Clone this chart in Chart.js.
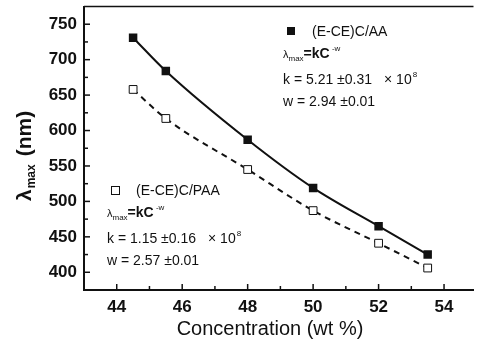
<!DOCTYPE html>
<html>
<head>
<meta charset="utf-8">
<script src="https://cdn.jsdelivr.net/npm/chart.js@4/dist/chart.umd.min.js"></script>
<style>
  html, body { margin: 0; padding: 0; background: #fff; }
  #wrap { width: 480px; height: 349px; }
</style>
</head>
<body>
<div id="wrap"><canvas id="grafico" width="480" height="349"></canvas></div>
<script>
'use strict';

// dados
const concentracao = [44.5, 45.5, 48, 50, 52, 53.5];
const lambdaAA = [731, 684, 587, 519, 465, 425];
const lambdaPAA = [658, 617, 545, 487, 441, 406];
const ticksX = [44, 45, 46, 47, 48, 49, 50, 51, 52, 53, 54];
const ticksY = [400, 425, 450, 475, 500, 525, 550, 575, 600, 625, 650, 675, 700, 725, 750];
const rotuloAA = '(E-CE)C/AA';
const rotuloPAA = '(E-CE)C/PAA';
const paramAA = ['k = 5.21 \u00B10.31', 'w = 2.94 \u00B10.01'];
const paramPAA = ['k = 1.15 \u00B10.16', 'w = 2.57 \u00B10.01'];

const FONTE = '"Liberation Sans", Arial, sans-serif';

function pontos(xs, ys)
{
    return xs.map((x, i) => ({ x: x, y: ys[i] }));
}

// escreve pedaços de texto seguidos (para sub/sobrescritos)
function escreverRuns(ctx, x, y, runs)
{
    runs.forEach(r => {
        ctx.font = r.font;
        ctx.fillText(r.t, x, y + (r.dy || 0));
        x += ctx.measureText(r.t).width + (r.gap || 0);
    });
    return x;
}

function blocoLegenda(ctx, x, y, cheio, rotulo, params)
{
    ctx.fillStyle = '#111';
    ctx.strokeStyle = '#111';
    ctx.lineWidth = 1;
    if (cheio) {
        ctx.fillRect(x, y - 9, 8, 8);
    } else {
        ctx.strokeRect(x + 0.5, y - 8.5, 8, 8);
    }
    ctx.textBaseline = 'alphabetic';
    ctx.textAlign = 'left';
    ctx.font = '14px ' + FONTE;
    ctx.fillText(rotulo, x + 25, y);

    escreverRuns(ctx, x - 4, y + 22, [
        { t: '\u03BB', font: '11px ' + FONTE },
        { t: 'max', font: '8px ' + FONTE, dy: 3 },
        { t: '=kC', font: 'bold 14px ' + FONTE },
        { t: ' -w', font: '8px ' + FONTE, dy: -7 }
    ]);

    escreverRuns(ctx, x - 4, y + 48, [
        { t: params[0], font: '14px ' + FONTE, gap: 12 },
        { t: '\u00D7 10', font: '14px ' + FONTE, gap: 1 },
        { t: '8', font: '8px ' + FONTE, dy: -7 }
    ]);
    ctx.font = '14px ' + FONTE;
    ctx.fillText(params[1], x - 4, y + 70);
}

const extras = {
    id: 'extras',
    afterDraw(chart) {
        const ctx = chart.ctx;
        const xs = chart.scales.x, ys = chart.scales.y;
        const area = chart.chartArea;
        ctx.save();
        ctx.strokeStyle = '#111';
        ctx.lineWidth = 1.5;

        // marcas para dentro
        xs.ticks.forEach(t => {
            const px = xs.getPixelForValue(t.value);
            const len = t.value % 2 === 0 ? 6 : 4;
            ctx.beginPath();
            ctx.moveTo(px, area.bottom);
            ctx.lineTo(px, area.bottom - len);
            ctx.stroke();
        });
        ys.ticks.forEach(t => {
            const py = ys.getPixelForValue(t.value);
            const len = t.value % 50 === 0 ? 6 : 4;
            ctx.beginPath();
            ctx.moveTo(area.left, py);
            ctx.lineTo(area.left + len, py);
            ctx.stroke();
        });

        // borda superior
        ctx.beginPath();
        ctx.moveTo(area.left, area.top);
        ctx.lineTo(area.right, area.top);
        ctx.stroke();

        // títulos dos eixos
        ctx.fillStyle = '#111';
        ctx.textAlign = 'center';
        ctx.textBaseline = 'alphabetic';
        ctx.font = '20px ' + FONTE;
        ctx.fillText('Concentration (wt %)', 270, 335);

        ctx.save();
        ctx.translate(31, 201);
        ctx.rotate(-Math.PI / 2);
        ctx.textAlign = 'left';
        escreverRuns(ctx, 0, 0, [
            { t: '\u03BB', font: 'bold 21px ' + FONTE, gap: 1 },
            { t: 'max', font: 'bold 12px ' + FONTE, dy: 4, gap: 8 },
            { t: '(nm)', font: 'bold 21px ' + FONTE }
        ]);
        ctx.restore();

        blocoLegenda(ctx, 287, 36, true, rotuloAA, paramAA);
        blocoLegenda(ctx, 111, 195, false, rotuloPAA, paramPAA);
        ctx.restore();
    }
};

new Chart(document.getElementById('grafico'), {
    type: 'scatter',
    data: {
        datasets: [{
            label: rotuloAA,
            data: pontos(concentracao, lambdaAA),
            showLine: true,
            cubicInterpolationMode: 'monotone',
            borderColor: '#111',
            borderWidth: 2,
            backgroundColor: '#111',
            pointStyle: 'rect',
            pointRadius: 6,
            pointBorderWidth: 0
        }, {
            label: rotuloPAA,
            data: pontos(concentracao, lambdaPAA),
            showLine: true,
            cubicInterpolationMode: 'monotone',
            borderColor: '#111',
            borderWidth: 2,
            borderDash: [6, 5],
            backgroundColor: '#fff',
            pointStyle: 'rect',
            pointRadius: 5.5,
            pointBorderWidth: 1,
            pointBorderColor: '#111'
        }]
    },
    options: {
        responsive: false,
        animation: false,
        layout: { padding: { top: 5, right: 0, left: 0, bottom: 0 } },
        plugins: {
            legend: { display: false },
            tooltip: { enabled: false }
        },
        scales: {
            x: {
                type: 'linear',
                min: 43,
                max: 54.9,
                afterBuildTicks: s => { s.ticks = ticksX.map(v => ({ value: v })); },
                afterFit: s => { s.height = 59; s.paddingLeft = 0; s.paddingRight = 0; },
                grid: { display: false, drawTicks: false },
                border: { display: true, color: '#111', width: 2 },
                ticks: {
                    autoSkip: false,
                    maxRotation: 0,
                    padding: 7,
                    color: '#111',
                    font: { family: FONTE, size: 17, weight: 'bold' },
                    callback: v => v % 2 === 0 ? v : ''
                }
            },
            y: {
                type: 'linear',
                min: 375,
                max: 775,
                afterBuildTicks: s => { s.ticks = ticksY.map(v => ({ value: v })); },
                afterFit: s => { s.width = 84; s.paddingTop = 0; s.paddingBottom = 0; },
                grid: { display: false, drawTicks: false },
                border: { display: true, color: '#111', width: 2 },
                ticks: {
                    autoSkip: false,
                    padding: 7,
                    color: '#111',
                    font: { family: FONTE, size: 17, weight: 'bold' },
                    callback: v => v % 50 === 0 ? v : ''
                }
            }
        }
    },
    plugins: [extras]
});
</script>
</body>
</html>
